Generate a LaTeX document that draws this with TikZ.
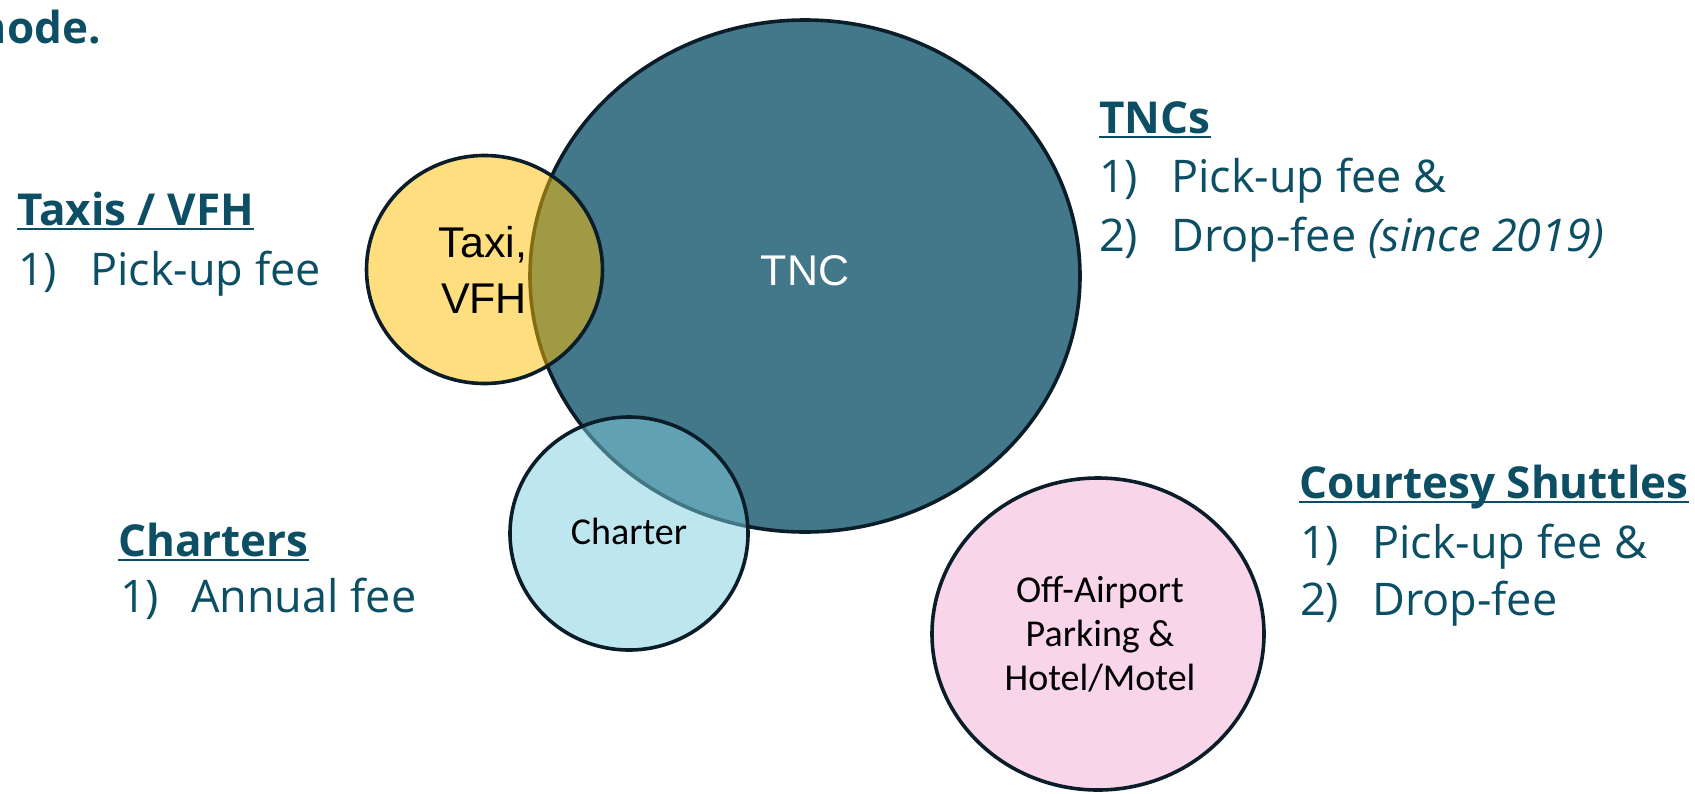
\documentclass[tikz,border=0pt]{standalone}
\usepackage{fontspec}
\setmainfont{Open Sans}
\newfontfamily\circfont{Liberation Sans}
\newfontfamily\calfont{Carlito}
\usetikzlibrary{shapes.geometric}
\definecolor{txt}{HTML}{0C4E64}
\definecolor{tnc}{HTML}{43788A}
\definecolor{gold}{HTML}{FFBD00}
\definecolor{chart}{HTML}{7DCDDE}
\definecolor{pinkfill}{HTML}{F8D5E8}
\definecolor{edge}{HTML}{0B1D29}
\begin{document}
\begin{tikzpicture}[x=1pt,y=-1pt,
  blob/.style={ellipse, draw=edge, line width=3.6pt, inner sep=0pt},
  head/.style={anchor=base west, inner sep=0pt, text=txt, font=\fontsize{44}{50}\selectfont\bfseries},
  item/.style={anchor=base west, inner sep=0pt, text=txt, font=\fontsize{45}{50}\selectfont},
  circtext/.style={anchor=base, inner sep=0pt, font=\circfont\fontsize{43}{50}\selectfont},
  caltext/.style={anchor=base, inner sep=0pt, font=\calfont\fontsize{38}{44}\selectfont},
  uline/.style={draw=txt, line width=2.2pt}]
\useasboundingbox (0,0) rectangle (1695,793);
\clip (0,0) rectangle (1695,793);
% circles
\node[blob, fill=tnc, minimum width=550pt, minimum height=512pt] (tnc) at (805,276) {};
\node[blob, fill=gold, fill opacity=0.5, minimum width=236pt, minimum height=228pt] (taxi) at (484.5,269.5) {};
\node[blob, fill=chart, fill opacity=0.5, minimum width=238pt, minimum height=233pt] (charter) at (629,533.5) {};
\node[blob, fill=pinkfill, minimum width=332pt, minimum height=312pt] (shuttle) at (1098,634) {};
% circle texts
\node[circtext, text=white] (tnclbl) at (805,285) {TNC};
\node[circtext] (taxil1) at (483,257) {Taxi,};
\node[circtext] (taxil2) at (484,313) {VFH};
\node[caltext] (charlbl) at (629,544) {Charter};
\node[caltext] (sh1) at (1100,602) {Off-Airport};
\node[caltext] (sh2) at (1100,646) {Parking \&};
\node[caltext] (sh3) at (1100,690) {Hotel/Motel};
% title fragment
\node[head, anchor=base east] (title) at (101,43) {mode.};
% Taxis / VFH
\node[head] (h1) at (17,225) {Taxis / VFH};
\draw[uline] ([yshift=-4pt]h1.base west) -- ([yshift=-4pt]h1.base east);
\node[item] (n11) at (18,285) {1)};
\node[item] (t11) at (90,285) {Pick-up fee};
% TNCs
\node[head] (h2) at (1099,133) {TNCs};
\draw[uline] ([yshift=-4pt]h2.base west) -- ([yshift=-4pt]h2.base east);
\node[item] (n21) at (1099,192) {1)};
\node[item] (t21) at (1171,192) {Pick-up fee \&};
\node[item] (n22) at (1099,251) {2)};
\node[item] (t22) at (1171,251) {Drop-fee \textit{(since 2019)}};
% Courtesy Shuttles
\node[head] (h3) at (1299,498) {Courtesy Shuttles};
\draw[uline] ([yshift=-4pt]h3.base west) -- ([yshift=-4pt]h3.base east);
\node[item] (n31) at (1300,558) {1)};
\node[item] (t31) at (1372,558) {Pick-up fee \&};
\node[item] (n32) at (1300,615) {2)};
\node[item] (t32) at (1372,615) {Drop-fee};
% Charters
\node[head] (h4) at (118,556) {Charters};
\draw[uline] ([yshift=-4pt]h4.base west) -- ([yshift=-4pt]h4.base east);
\node[item] (n41) at (120,612) {1)};
\node[item] (t41) at (191,612) {Annual fee};
\end{tikzpicture}
\end{document}
